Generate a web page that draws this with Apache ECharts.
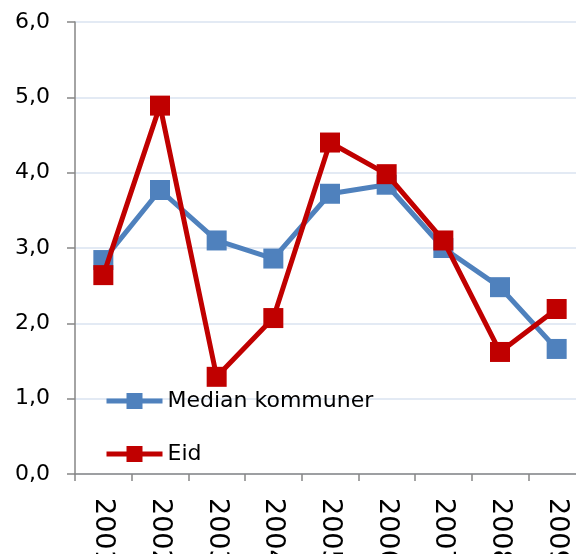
<!DOCTYPE html>
<html>
<head>
<meta charset="utf-8">
<script src="https://cdn.jsdelivr.net/npm/echarts@6/dist/echarts.min.js"></script>
<style>
  html, body { margin: 0; padding: 0; background: #fff; }
  #chart { width: 576px; height: 554px; }
</style>
</head>
<body>
<div id="chart"></div>
<script>
// years on the x axis
const years = ['2001', '2002', '2003', '2004', '2005', '2006', '2007', '2008', '2009']
// median of all municipalities
const medianValues = [2.84, 3.77, 3.1, 2.86, 3.72, 3.84, 3.0, 2.48, 1.66]
// Eid municipality
const eidValues = [2.64, 4.89, 1.29, 2.07, 4.4, 3.98, 3.1, 1.62, 2.19]

const font = 'DejaVu Sans, Verdana, sans-serif'

let chart = echarts.init(document.getElementById('chart'))
let option = {
  animation: false,
  textStyle: { fontFamily: font },
  grid: { left: 75, top: 22, right: -9, bottom: 80, containLabel: false, outerBoundsMode: 'none' },
  legend: {
    orient: 'vertical',
    left: 99,
    top: 385,
    itemWidth: 56,
    itemHeight: 20,
    itemGap: 31,
    itemStyle: { borderWidth: 0 },
    lineStyle: { width: 5 },
    textStyle: { fontSize: 22, color: '#000', fontFamily: font },
    data: ['Median kommuner', 'Eid']
  },
  xAxis: {
    type: 'category',
    data: years,
    boundaryGap: true,
    axisLine: { lineStyle: { color: '#868686', width: 1.5 } },
    axisTick: { show: true, length: 7, lineStyle: { color: '#868686', width: 1.5 } },
    axisLabel: {
      rotate: -90,
      margin: 24,
      fontSize: 27,
      color: '#000',
      fontFamily: font,
      interval: 0
    },
    splitLine: { show: false }
  },
  yAxis: {
    type: 'value',
    min: 0,
    max: 6,
    interval: 1,
    axisLine: { show: true, lineStyle: { color: '#868686', width: 1.5 } },
    axisTick: { show: true, length: 8, lineStyle: { color: '#868686', width: 1.5 } },
    axisLabel: {
      fontSize: 22,
      color: '#000',
      margin: 25,
      fontFamily: font,
      formatter: v => v.toFixed(1).replace('.', ',')
    },
    splitLine: { lineStyle: { color: '#DAE3F0', width: 1.5 } }
  },
  series: [
    {
      name: 'Median kommuner',
      type: 'line',
      data: medianValues,
      symbol: 'rect',
      symbolSize: 20,
      lineStyle: { color: '#4F81BD', width: 5 },
      itemStyle: { color: '#4F81BD' },
      z: 2
    },
    {
      name: 'Eid',
      type: 'line',
      data: eidValues,
      symbol: 'rect',
      symbolSize: 20,
      lineStyle: { color: '#C00000', width: 5 },
      itemStyle: { color: '#C00000' },
      z: 3
    }
  ]
}
chart.setOption(option)
</script>
</body>
</html>
